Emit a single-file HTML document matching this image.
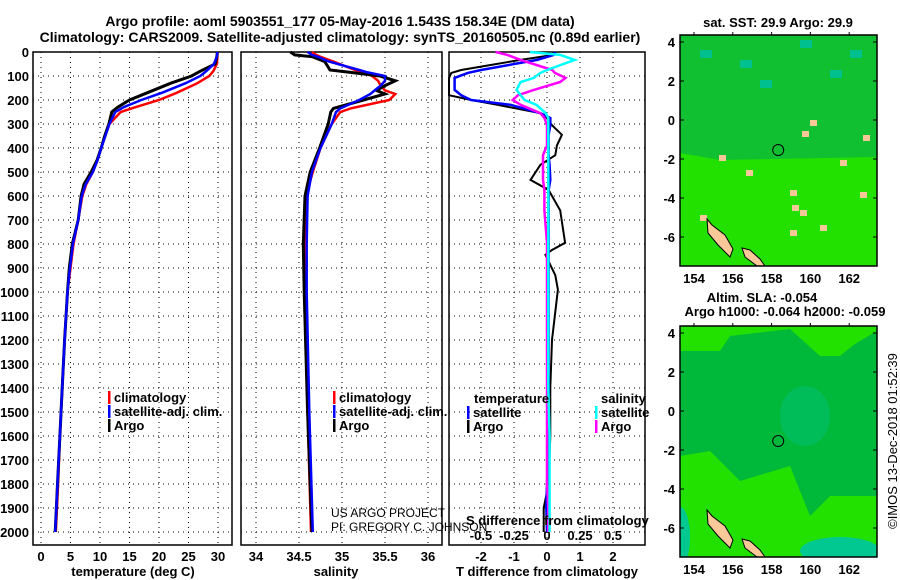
<!DOCTYPE html>
<html><head><meta charset="utf-8"><style>
body{margin:0;background:#fff}
svg{display:block;font-family:"Liberation Sans",sans-serif}
.b{font-weight:bold;font-size:13px}
.t{font-weight:bold;font-size:14px}
</style></head><body>
<svg id="c" width="900" height="580">
<defs>
<clipPath id="clip1"><rect x="680" y="35" width="197" height="231"/></clipPath>
<clipPath id="clip2"><rect x="680" y="326" width="197" height="231"/></clipPath>
</defs>
<text class="t" x="340" y="26" text-anchor="middle">Argo profile: aoml 5903551_177 05-May-2016 1.543S 158.34E (DM data)</text>
<text class="t" x="340" y="42" text-anchor="middle">Climatology: CARS2009. Satellite-adjusted climatology: synTS_20160505.nc (0.89d earlier)</text>
<g id="g"></g>
</svg>
<script>
// temperature profiles
const tDepth=[0,20,50,80,100,130,170,200,230,250,300,350,400,450,500,550,600,700,800,900,1000,1200,1400,1600,1800,2000];
const tArgo=[29.9,29.8,29.5,27,25.5,22,18,15,13,12,11.5,10.8,10.2,9.5,8.5,7.3,6.8,6.3,5.3,4.8,4.5,4.0,3.6,3.2,2.8,2.4];
const tClim=[29.9,29.9,29.8,29.2,28.5,26.5,23,20,16,13.5,11.6,10.9,10.2,9.6,8.8,7.7,7.0,6.3,5.5,5.0,4.5,4.0,3.6,3.2,2.9,2.5];
const tSat=[29.9,29.8,29.3,28,27,24.5,20.5,17,14,12.6,11.6,10.9,10.2,9.6,8.8,7.6,6.9,6.3,5.4,4.9,4.5,4.0,3.6,3.2,2.8,2.4];
// salinity profiles
const sDepth=[0,12,20,40,75,85,100,120,140,160,175,200,235,250,300,400,500,600,800,1000,1500,2000];
const sArgo=[34.4,34.45,34.66,34.8,34.86,35.1,35.44,35.62,35.5,35.4,35.5,35.25,34.9,34.87,34.84,34.74,34.63,34.57,34.55,34.56,34.6,34.65];
const sClim=[34.65,34.7,34.75,34.9,35.15,35.25,35.35,35.42,35.45,35.5,35.62,35.55,35.1,34.98,34.88,34.75,34.66,34.58,34.57,34.57,34.6,34.64];
const sSat=[34.6,34.65,34.72,34.85,35.2,35.3,35.5,35.5,35.45,35.38,35.33,35.2,34.98,34.93,34.88,34.75,34.65,34.6,34.59,34.59,34.62,34.66];
// difference profiles
const dDepth=[0,12,33,75,87,108,125,158,180,200,220,255,275,305,345,390,430,470,533,575,660,795,825,845,930,990,1200,1400,1600,1800,1900,2000];
const dTArgo=[0.2,0.2,-0.8,-2.6,-2.9,-3,-3,-3,-3,-2.3,-1.5,-0.2,0,0.15,0.45,0.3,0.25,-0.2,-0.5,0.05,0.4,0.55,0.15,-0.05,0.25,0.33,0.15,0.1,0.1,0.05,-0.1,-0.1];
const dTSat=[0.25,0.2,-0.3,-2,-2.4,-2.8,-2.8,-2.8,-2.6,-2.3,-1.1,-0.2,0.1,0.1,0.05,0.05,0.05,0.08,0.1,0.05,0.05,0.05,0.05,0.05,0.05,0.05,0.05,0.05,0.05,0,-0.02,0];
const dSArgo=[-0.39,-0.3,-0.2,0.04,0.06,0.14,0.1,-0.1,-0.22,-0.26,-0.2,-0.05,-0.02,0,0,0,-0.03,-0.03,-0.03,-0.02,-0.02,0,0,0,0,0,0,0,0,0,0.01,0.01];
const dSCyan=[-0.13,0.1,0.21,0,-0.05,-0.1,-0.2,-0.23,-0.2,-0.17,-0.08,-0.01,0.01,0.01,0.01,0.01,0.01,0.01,0.01,0.01,0.01,0.01,0.01,0.01,0.01,0.01,0.01,0.01,0.02,0.02,0.02,0.02];
const depthTicks=[0,100,200,300,400,500,600,700,800,900,1000,1100,1200,1300,1400,1500,1600,1700,1800,1900,2000];
const tTicks=[0,5,10,15,20,25,30];
const sTicks=[34,34.5,35,35.5,36];
const dTTicks=[-2,-1,0,1,2];
const dSTicks=[-0.5,-0.25,0,0.25,0.5];
const latTicks=[4,2,0,-2,-4,-6];
const lonTicks=[154,156,158,160,162];

const NS='http://www.w3.org/2000/svg';
const G=document.getElementById('g');
function mk(tag,at,parent){const e=document.createElementNS(NS,tag);for(const k in at)e.setAttribute(k,at[k]);(parent||G).appendChild(e);return e;}
function tx(x,y,s,cls,anchor){const e=mk('text',{x:x,y:y,'class':cls||'b','text-anchor':anchor||'start'});e.textContent=s;return e;}
const yD=d=>52+d*0.24;
const xT=v=>41+v*5.9;
const xS=v=>256+(v-34)*86;
const xDT=v=>Math.max(449,547+v*33);
const xDS=v=>Math.max(449,547+v*132);
const panels=[[33,232],[241,442],[449,645]];
const TOP=52,BOT=545;

panels.forEach((p,i)=>{
  const f=mk('rect',{x:p[0],y:TOP,width:p[1]-p[0],height:BOT-TOP,fill:'none',stroke:'#000','stroke-width':1.5});
  
  
  depthTicks.forEach(d=>{mk('line',{x1:p[0],x2:p[1],y1:yD(d),y2:yD(d),stroke:'#000','stroke-dasharray':'1 4'});});
});
depthTicks.forEach(d=>{
  const t=tx(29,yD(d)+5,String(d),'b','end');
  
  
});
function vgrid(ticks,fx,lab){ticks.forEach(v=>{mk('line',{x1:fx(v),x2:fx(v),y1:TOP,y2:BOT,stroke:'#000','stroke-dasharray':'1 4'});
  const t=tx(fx(v),561,String(v),'b','middle');
  
  });}
vgrid(tTicks,xT,'temperature-tick-label');
vgrid(sTicks,xS,'salinity-tick-label');
vgrid(dTTicks,v=>547+v*33,'t-diff-tick-label');
dSTicks.forEach(v=>{const t=tx(547+v*132,540,String(v),'b','middle');
  
  });

function line(dep,vals,fx,col,w,name){
  const pts=dep.map((d,i)=>fx(vals[i]).toFixed(1)+','+yD(d).toFixed(1)).join(' ');
  const e=mk('polyline',{points:pts,fill:'none',stroke:col,'stroke-width':w});
  
  
}
line(tDepth,tClim,xT,'#f00',2.5,'temperature-climatology-line');
line(tDepth,tArgo,xT,'#000',3,'temperature-argo-line');
line(tDepth,tSat,xT,'#00f',2.5,'temperature-satellite-line');
line(sDepth,sClim,xS,'#f00',2.5,'salinity-climatology-line');
line(sDepth,sArgo,xS,'#000',3,'salinity-argo-line');
line(sDepth,sSat,xS,'#00f',2.5,'salinity-satellite-line');
line(dDepth,dTArgo,xDT,'#000',2,'t-diff-argo-line');
line(dDepth,dTSat,xDT,'#00f',2.5,'t-diff-satellite-line');
line(dDepth,dSArgo,xDS,'#f0f',2.5,'s-diff-argo-line');
line(dDepth,dSCyan,xDS,'#0ff',2.5,'s-diff-satellite-line');

[['temperature (deg C)',133,'temperature-axis-title'],['salinity',336,'salinity-axis-title'],['T difference from climatology',547,'t-diff-axis-title']].forEach(a=>{
  const t=tx(a[1],576,a[0],'b','middle');});
const sl=tx(466,525,'S difference from climatology','b');



function leg(x,y,col,label,name){
  mk('rect',{x:x,y:y-11,width:2.5,height:13,fill:col});
  const t=tx(x+6,y,label,'b');
  
  
}
leg(108,402,'#f00','climatology','legend-climatology');
leg(108,416,'#00f','satellite-adj. clim.','legend-satellite-adj');
leg(108,430,'#000','Argo','legend-argo');
leg(333,402,'#f00','climatology','legend-climatology-2');
leg(333,416,'#00f','satellite-adj. clim.','legend-satellite-adj-2');
leg(333,430,'#000','Argo','legend-argo-2');
const lt=tx(474,403,'temperature','b');
const ls=tx(601,403,'salinity','b');
leg(467,417,'#00f','satellite','legend-t-satellite');
leg(467,431,'#000','Argo','legend-t-argo');
leg(595,417,'#0ff','satellite','legend-s-satellite');
leg(595,431,'#f0f','Argo','legend-s-argo');
const u1=tx(331,517,'US ARGO PROJECT','n');u1.setAttribute('font-size','12');
const u2=tx(331,531,'PI: GREGORY C. JOHNSON','n');u2.setAttribute('font-size','12');

function map(top,name,kind){
  const L=680,R=877,B=top+231;
  const lat=v=>top+7+(4-v)*19.5;
  const lon=v=>694+(v-154)*19.4;
  const gm=mk('g',{});
  
  
  const gc=mk('g',{'clip-path':'url(#clip'+kind+')'},gm);
  mk('rect',{x:L,y:top,width:R-L,height:B-top,fill:'#22e000'},gc);
  if(kind===1){
    mk('rect',{x:L,y:top,width:R-L,height:115,fill:'#10c030'},gc);
    mk('polygon',{points:`${L},${top+115} ${R},${top+115} ${R},${top+122} ${L+40},${top+125} ${L},${top+118}`,fill:'#10c030'},gc);
    [[740,60],[800,40],[830,70],[760,80],[850,50],[700,50]].forEach(p=>mk('rect',{x:p[0],y:p[1]+top-35,width:12,height:8,fill:'#00c090'},gc));
    [[719,155],[746,170],[790,190],[790,230],[792,205],[800,210],[820,225],[840,160],[863,135],[860,192],[700,215],[802,131],[810,120]].forEach(p=>mk('rect',{x:p[0],y:p[1],width:7,height:6,fill:'#f8c898'},gc));
  } else {
    mk('polygon',{points:`${L},${top+25} ${L+40},${top+25} ${L+50},${top+10} ${L+110},${top+3} ${L+140},${top+30} ${L+160},${top+30} ${L+175},${top+18} ${R},${top+5} ${R},${top+170} ${L+150},${top+170} ${L+130},${top+190} ${L+110},${top+140} ${L+60},${top+155} ${L+30},${top+125} ${L},${top+130}`,fill:'#00b83a'},gc);
    mk('ellipse',{cx:L+125,cy:top+90,rx:25,ry:30,fill:'#00bd5a'},gc);
    mk('ellipse',{cx:L+160,cy:B-6,rx:40,ry:14,fill:'#00c890'},gc);
    mk('ellipse',{cx:L,cy:B-20,rx:10,ry:30,fill:'#00c890'},gc);
  }
  mk('polygon',{points:`707,${top+184} 712,${top+190} 725,${top+200} 733,${top+214} 730,${top+222} 718,${top+210} 708,${top+198}`,fill:'#f8c898',stroke:'#000','stroke-width':1},gc);
  mk('polygon',{points:`742,${top+213} 750,${top+215} 760,${top+224} 765,${top+231} 757,${top+231} 745,${top+222}`,fill:'#f8c898',stroke:'#000','stroke-width':1},gc);
  const c=mk('circle',{cx:lon(158.34),cy:lat(-1.54),r:5.5,fill:'none',stroke:'#000','stroke-width':1},gm);
  
  
  mk('rect',{x:L,y:top,width:R-L,height:B-top,fill:'none',stroke:'#000','stroke-width':1.5},gm);
  latTicks.forEach(v=>{mk('line',{x1:L,x2:L+4,y1:lat(v),y2:lat(v),stroke:'#000'},gm);mk('line',{x1:R,x2:R-4,y1:lat(v),y2:lat(v),stroke:'#000'},gm);
    const t=tx(675,lat(v)+5,String(v),'b','end');});
  lonTicks.forEach(v=>{mk('line',{x1:lon(v),x2:lon(v),y1:top,y2:top-3,stroke:'#000'},gm);
    const t=tx(lon(v),B+17,String(v),'b','middle');});
}
map(35,'sst-map',1);
map(326,'sla-map',2);
const m1=tx(778,27,'sat. SST: 29.9 Argo: 29.9','b','middle');
const m2=tx(762,302,'Altim. SLA: -0.054','b','middle');
const m3=tx(785,316,'Argo h1000: -0.064 h2000: -0.059','b','middle');
const cp=tx(0,0,'©IMOS 13-Dec-2018 01:52:39','n','middle');
cp.setAttribute('font-size','13');
cp.setAttribute('transform','translate(897,441) rotate(-90)');


</script>
</body></html>
